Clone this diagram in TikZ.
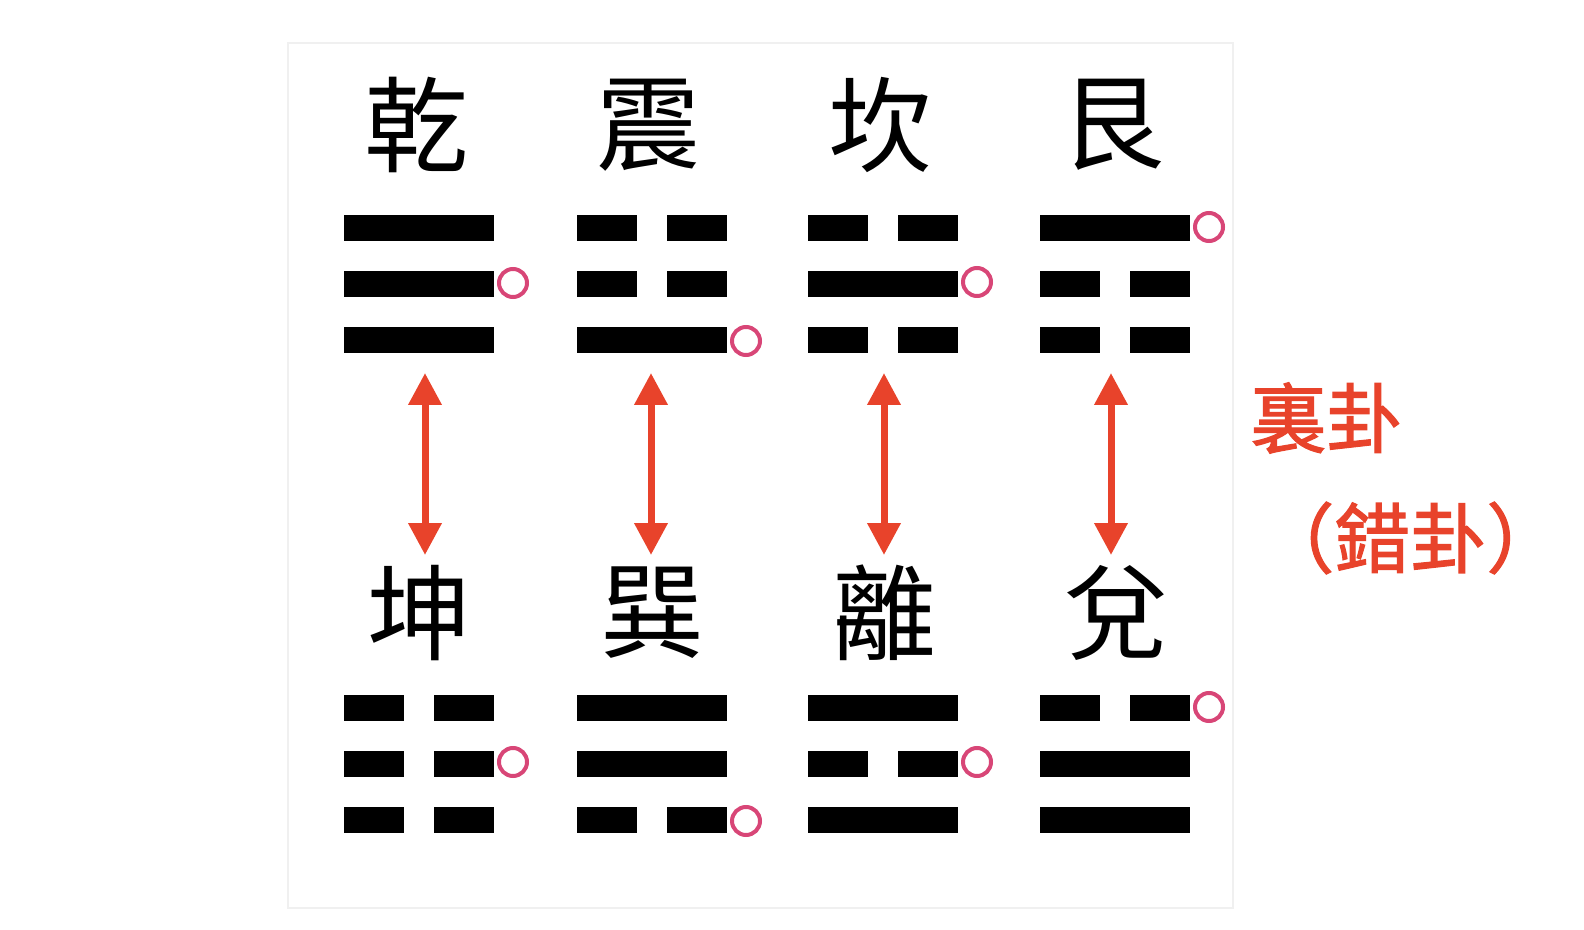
\documentclass[tikz,border=0pt]{standalone}
\usepackage{fontspec}
\newfontfamily\cjk{Noto Sans CJK TC}
\newfontfamily\cjkmed[FakeBold=1.5]{Noto Sans CJK TC}
\usetikzlibrary{arrows.meta}
\definecolor{arrred}{HTML}{E8432B}
\definecolor{ringc}{HTML}{D84677}
\definecolor{framec}{HTML}{F0F0F0}
\newcommand\yangline[2]{\fill[black] (#1,#2-13) rectangle ++(150,26);}
\newcommand\yinline[2]{\fill[black] (#1,#2-13) rectangle ++(60,26); \fill[black] (#1+90,#2-13) rectangle ++(60,26);}
\begin{document}
\begin{tikzpicture}[x=0.5pt,y=-0.5pt,
  ring/.style={draw=ringc, line width=2pt},
  biarrow/.style={draw=arrred, line width=3.5pt, {Triangle[length=16pt,width=16pt]}-{Triangle[length=16pt,width=16pt]}},
  gua/.style={font=\cjk\fontsize{52}{52}\selectfont, inner sep=0pt},
  redlabel/.style={text=arrred, font=\cjkmed\fontsize{38}{38}\selectfont, anchor=west, inner sep=0pt}]
\useasboundingbox (0,0) rectangle (1584,930);
\draw[framec, line width=0.6pt] (288,43) rectangle (1233,908);
% characters
\node[gua] (qian) at (416,125) {乾};
\node[gua] (zhen) at (648,125) {震};
\node[gua] (kan)  at (880,125) {坎};
\node[gua] (gen)  at (1112,125) {艮};
\node[gua] (kun)  at (419,613) {坤};
\node[gua] (xun)  at (652,613) {巽};
\node[gua] (li)   at (884,613) {離};
\node[gua] (dui)  at (1116,613) {兌};
% top trigrams
\yangline{344}{228}\yangline{344}{284}\yangline{344}{340}
\yinline{577}{228}\yinline{577}{284}\yangline{577}{340}
\yinline{808}{228}\yangline{808}{284}\yinline{808}{340}
\yangline{1040}{228}\yinline{1040}{284}\yinline{1040}{340}
% bottom trigrams
\yinline{344}{708}\yinline{344}{764}\yinline{344}{820}
\yangline{577}{708}\yangline{577}{764}\yinline{577}{820}
\yangline{808}{708}\yinline{808}{764}\yangline{808}{820}
\yinline{1040}{708}\yangline{1040}{764}\yangline{1040}{820}
% rings
\draw[ring] (513,283) circle[radius=7pt];
\draw[ring] (746,341) circle[radius=7pt];
\draw[ring] (977,282) circle[radius=7pt];
\draw[ring] (1209,227) circle[radius=7pt];
\draw[ring] (513,762) circle[radius=7pt];
\draw[ring] (746,821) circle[radius=7pt];
\draw[ring] (977,762) circle[radius=7pt];
\draw[ring] (1209,707) circle[radius=7pt];
% arrows
\coordinate (a1t) at (425,373); \coordinate (a1b) at (425,555);
\coordinate (a2t) at (651,373); \coordinate (a2b) at (651,555);
\coordinate (a3t) at (884,373); \coordinate (a3b) at (884,555);
\coordinate (a4t) at (1111,373); \coordinate (a4b) at (1111,555);
\draw[biarrow] (a1t) -- (a1b);
\draw[biarrow] (a2t) -- (a2b);
\draw[biarrow] (a3t) -- (a3b);
\draw[biarrow] (a4t) -- (a4b);
% labels
\node[redlabel] (ura) at (1250,418) {裏卦};
\node[redlabel] (saku) at (1258,538) {（錯卦）};
\end{tikzpicture}
\end{document}
